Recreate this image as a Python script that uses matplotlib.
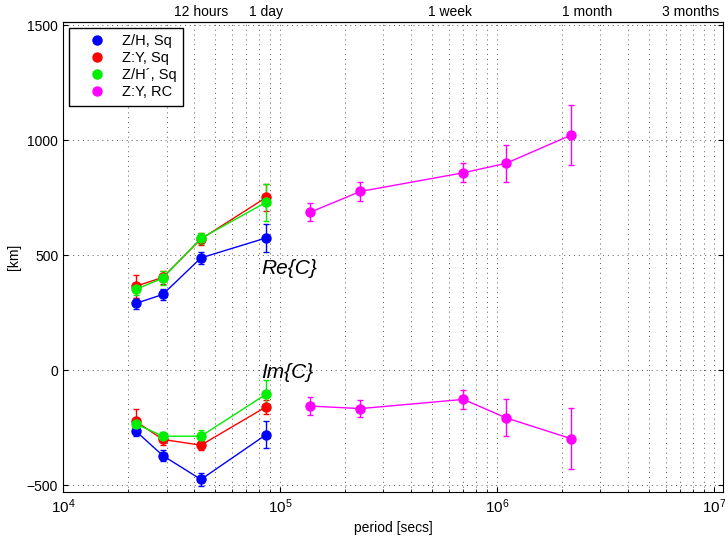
import matplotlib.pyplot as plt

plt.rcParams['font.family'] = ['Liberation Sans', 'DejaVu Sans']

# periods in seconds: 6h, 8h, 12h, 1 day
sq_period = [21600, 28800, 43200, 86400]
rc_period = [1.38e5, 2.35e5, 7.0e5, 1.1e6, 2.2e6]

# real part of C [km]
re_zh = [290, 329, 488, 575]
re_zh_err = [25, 25, 25, 60]
re_zy = [365, 403, 570, 751]
re_zy_err = [50, 30, 25, 60]
re_zhp = [351, 400, 573, 730]
re_zhp_err = [25, 30, 25, 80]
re_rc = [687, 777, 858, 899, 1022]
re_rc_err = [40, 41, 42, 80, 130]

# imaginary part of C [km]
im_zh = [-264, -371, -475, -280]
im_zh_err = [20, 25, 30, 60]
im_zy = [-222, -301, -326, -159]
im_zy_err = [52, 25, 20, 30]
im_zhp = [-233, -287, -287, -104]
im_zhp_err = [20, 20, 25, 60]
im_rc = [-156, -167, -127, -207, -298]
im_rc_err = [40, 37, 40, 80, 132]

labels = ['Z/H, Sq', 'Z:Y, Sq', 'Z/H\u00b4, Sq', 'Z:Y, RC']
colors = ['#0000ff', '#ff0000', '#00ee00', '#ff00ff']

top_ticks = [43200, 86400, 604800, 2592000, 7776000]
top_labels = ['12 hours', '1 day', '1 week', '1 month', '3 months']

fig = plt.figure(figsize=(7.25, 5.39), dpi=100)
ax = fig.add_axes([0.087, 0.087, 0.910, 0.872])

series = [
    (sq_period, re_zh, re_zh_err, im_zh, im_zh_err),
    (sq_period, re_zy, re_zy_err, im_zy, im_zy_err),
    (sq_period, re_zhp, re_zhp_err, im_zhp, im_zhp_err),
    (rc_period, re_rc, re_rc_err, im_rc, im_rc_err),
]

for (x, re, re_err, im, im_err), c, lab in zip(series, colors, labels):
    for y, e, l in [(re, re_err, lab), (im, im_err, None)]:
        ax.errorbar(x, y, yerr=e, color=c, marker='o', markersize=6.5,
                    linewidth=1, elinewidth=1, capsize=2.5, label=l)

ax.set_xscale('log')
ax.set_xlim(1e4, 1.1e7)
ax.set_ylim(-530, 1513)
ax.set_yticks([-500, 0, 500, 1000, 1500])
ax.set_yticklabels(['\u2212500', '0', '500', '1000', '1500'])
ax.grid(True, which='major', linestyle=(0, (1, 4)), color='0.35', linewidth=0.7)
ax.grid(True, which='minor', axis='x', linestyle=(0, (1, 4)), color='0.35', linewidth=0.7)
ax.tick_params(which='both', direction='in', labelsize=10, right=True)
ax.tick_params(axis='x', labelsize=11)
ax.set_xlabel('period [secs]', fontsize=10)
ax.set_ylabel('[km]', fontsize=10)

top = ax.secondary_xaxis('top')
top.set_xticks(top_ticks)
top.set_xticklabels(top_labels)
top.xaxis.set_minor_locator(plt.NullLocator())
top.tick_params(direction='in', labelsize=10, length=0, pad=2)

ax.text(8.2e4, 443, 'Re{C}', fontsize=15, style='italic', va='center')
ax.text(8.2e4, -10, 'Im{C}', fontsize=15, style='italic', va='center')

handles, hl = ax.get_legend_handles_labels()
leg = ax.legend([h[0] for h in handles], hl,
                loc='upper left', fontsize=10.5,
                fancybox=False, edgecolor='k', framealpha=1,
                handlelength=3.0, handletextpad=0.2, borderpad=0.45,
                labelspacing=0.2, borderaxespad=0.4)
leg.get_frame().set_linewidth(1)
for h in leg.legend_handles:
    h.set_linestyle('none')

fig.savefig('out.png', dpi=100)
